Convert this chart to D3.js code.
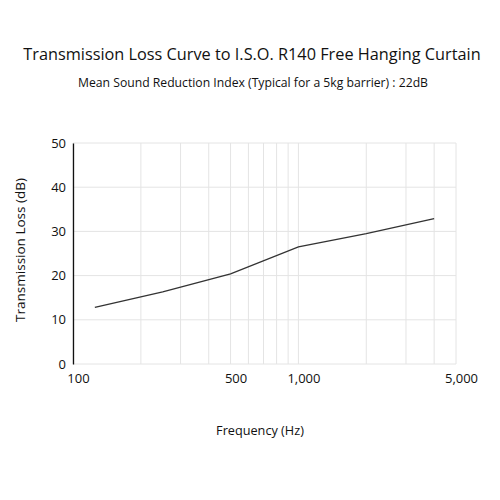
<!DOCTYPE html>
<html><head><meta charset="utf-8">
<script src="https://cdn.jsdelivr.net/npm/d3@7"></script>
<style>body{margin:0;background:#fff}svg{display:block}text{font-family:"Open Sans",sans-serif;fill:#111}</style>
</head><body><svg id="c" width="500" height="500"></svg>
<script>
const frequencies = [125, 250, 500, 1000, 2000, 4000];
const transmissionLoss = [12.8, 16.3, 20.4, 26.5, 29.5, 32.9];
const xTickValues = [100, 500, 1000, 5000];
const xGridValues = [100,200,300,400,500,600,700,800,900,1000,2000,3000,4000,5000];
const yTickValues = [0, 10, 20, 30, 40, 50];

const svg = d3.select("#c");
const m = {l:73, r:456, t:143, b:364};
const x = d3.scaleLog().domain([100,5000]).range([m.l,m.r]);
const y = d3.scaleLinear().domain([0,50]).range([m.b,m.t]);

// grid
svg.append("g").selectAll("line").data(xGridValues).join("line")
  .attr("x1",d=>x(d)).attr("x2",d=>x(d)).attr("y1",m.t).attr("y2",m.b)
  .attr("stroke","#e4e4e4").attr("stroke-width",1);
svg.append("g").selectAll("line").data(yTickValues).join("line")
  .attr("x1",m.l).attr("x2",m.r).attr("y1",d=>y(d)).attr("y2",d=>y(d))
  .attr("stroke","#e4e4e4").attr("stroke-width",1);

// y axis
const ya = svg.append("g").attr("transform",`translate(${m.l},0)`)
  .call(d3.axisLeft(y).tickValues(yTickValues).tickSize(0).tickPadding(7));
ya.select(".domain").attr("stroke","#111").attr("stroke-width",1.3);
ya.selectAll("text").style("font-family","'Open Sans',sans-serif").style("font-size","13px").attr("fill","#111");

// x axis
const xa = svg.append("g").attr("transform",`translate(0,${m.b})`)
  .call(d3.axisBottom(x).tickValues(xTickValues).tickFormat(d3.format(",")).tickSize(0).tickPadding(10));
xa.select(".domain").remove();
xa.selectAll("text").style("font-family","'Open Sans',sans-serif").style("font-size","13px").attr("fill","#111").attr("dx","5");

// line
const line = d3.line().x((d,i)=>x(frequencies[i])).y(d=>y(d));
svg.append("path").datum(transmissionLoss).attr("d",line)
  .attr("fill","none").attr("stroke","#333").attr("stroke-width",1.3);

// titles
svg.append("text").attr("x",252).attr("y",60).attr("text-anchor","middle")
  .style("font-size","16.3px").text("Transmission Loss Curve to I.S.O. R140 Free Hanging Curtain");
svg.append("text").attr("x",253).attr("y",87).attr("text-anchor","middle")
  .style("font-size","12.2px").text("Mean Sound Reduction Index (Typical for a 5kg barrier) : 22dB");
svg.append("text").attr("transform","translate(25,250) rotate(-90)").attr("text-anchor","middle")
  .style("font-size","13.5px").text("Transmission Loss (dB)");
svg.append("text").attr("x",260).attr("y",435).attr("text-anchor","middle")
  .style("font-size","12.7px").text("Frequency (Hz)");
</script></body></html>
